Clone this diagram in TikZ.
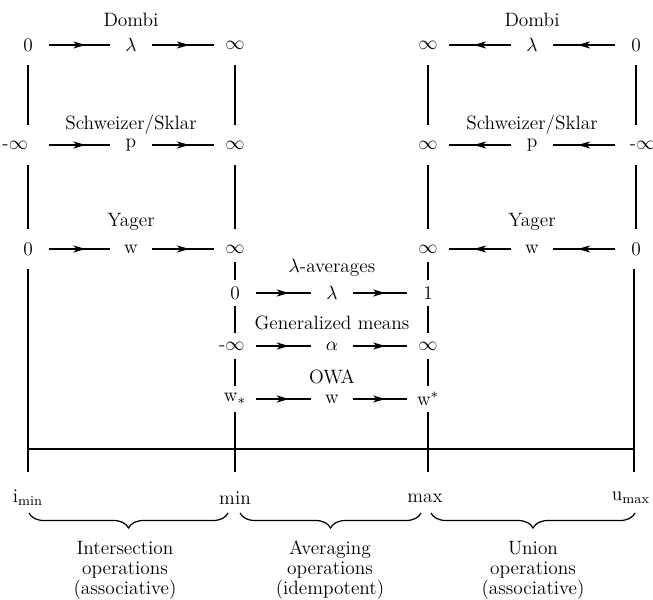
\documentclass[tikz,border=0pt]{standalone}
\usepackage{fontspec}
\usetikzlibrary{arrows.meta,decorations.markings,decorations.pathreplacing}

\begin{document}
\begin{tikzpicture}[>=stealth,
        font=\fontsize{11}{11.4}\selectfont,
        line width=0.8pt,
        val/.style={minimum width=0.8cm, minimum height=0.5cm, inner sep=0pt},
        fam/.style={inner sep=1pt},
        flow/.style={postaction={decorate}, decoration={markings, mark=at position 0.6 with {\arrow{Stealth[length=7pt,width=4pt,inset=2pt]}}}},
        rail/.style={shorten <=4pt, shorten >=4pt},
        ops/.style={align=center}]

        \useasboundingbox (0,0) rectangle (13.06,11.98);

        % intersections (left)
        \node[fam] (ldn) at (2.62,11.58) {Dombi};
        \node[val] (ld0) at (0.56,11.08) {0};
        \node[val] (ldl) at (2.62,11.08) {$\lambda$};
        \node[val] (ld1) at (4.7,11.08) {$\infty$};
        \node[fam] (lsn) at (2.62,9.48) {Schweizer/Sklar};
        \node[val] (ls0) at (0.56,9.08) {\llap{-$\infty$}};
        \node[val] (lsp) at (2.62,9.08) {p};
        \node[val] (ls1) at (4.7,9.08) {$\infty$};
        \node[fam] (lyn) at (2.62,7.54) {Yager};
        \node[val] (ly0) at (0.56,7.0) {0};
        \node[val] (lyw) at (2.62,7.0) {w};
        \node[val] (ly1) at (4.7,7.0) {$\infty$};

        \draw[flow] (ld0) -- (ldl);
        \draw[flow] (ldl) -- (ld1);
        \draw[flow] (ls0) -- (lsp);
        \draw[flow] (lsp) -- (ls1);
        \draw[flow] (ly0) -- (lyw);
        \draw[flow] (lyw) -- (ly1);
        \draw[rail] (ld0) -- (ls0);
        \draw[rail] (ls0) -- (ly0);
        \draw[rail] (ld1) -- (ls1);
        \draw[rail] (ls1) -- (ly1);

        % unions (right)
        \node[fam] (rdn) at (10.64,11.58) {Dombi};
        \node[val] (rd1) at (8.56,11.08) {$\infty$};
        \node[val] (rdl) at (10.64,11.08) {$\lambda$};
        \node[val] (rd0) at (12.72,11.08) {0};
        \node[fam] (rsn) at (10.64,9.48) {Schweizer/Sklar};
        \node[val] (rs1) at (8.56,9.08) {$\infty$};
        \node[val] (rsp) at (10.64,9.08) {p};
        \node[val] (rs0) at (12.72,9.08) {\kern-7pt\rlap{-$\infty$}};
        \node[fam] (ryn) at (10.64,7.54) {Yager};
        \node[val] (ry1) at (8.56,7.0) {$\infty$};
        \node[val] (ryw) at (10.64,7.0) {w};
        \node[val] (ry0) at (12.72,7.0) {0};

        \draw[flow] (rd0) -- (rdl);
        \draw[flow] (rdl) -- (rd1);
        \draw[flow] (rs0) -- (rsp);
        \draw[flow] (rsp) -- (rs1);
        \draw[flow] (ry0) -- (ryw);
        \draw[flow] (ryw) -- (ry1);
        \draw[rail] (rd1) -- (rs1);
        \draw[rail] (rs1) -- (ry1);
        \draw[rail] (rd0) -- (rs0);
        \draw[rail] (rs0) -- (ry0);

        % averages (middle)
        \node[fam] (aln) at (6.64,6.62) {$\lambda$-averages};
        \node[val] (al0) at (4.7,6.12) {0};
        \node[val] (all) at (6.64,6.12) {$\lambda$};
        \node[val] (al1) at (8.56,6.12) {1};
        \node[fam] (agn) at (6.64,5.52) {Generalized means};
        \node[val] (ag0) at (4.7,5.06) {\llap{-}$\infty$};
        \node[val] (aga) at (6.64,5.06) {$\alpha$};
        \node[val] (ag1) at (8.56,5.06) {$\infty$};
        \node[fam] (aon) at (6.64,4.44) {OWA};
        \node[val] (ao0) at (4.7,4.0) {w$_*$};
        \node[val] (aow) at (6.64,4.0) {w};
        \node[val] (ao1) at (8.56,4.0) {w$^*$};

        \draw[flow] (al0) -- (all);
        \draw[flow] (all) -- (al1);
        \draw[flow] (ag0) -- (aga);
        \draw[flow] (aga) -- (ag1);
        \draw[flow] (ao0) -- (aow);
        \draw[flow] (aow) -- (ao1);
        \draw (ly1) -- (al0);
        \draw (al0) -- (ag0);
        \draw (ag0) -- (ao0);
        \draw (ry1) -- (al1);
        \draw (al1) -- (ag1);
        \draw (ag1) -- (ao1);

        % scale
        \coordinate (b1) at (0.56,2.54);
        \coordinate (b2) at (4.7,2.54);
        \coordinate (b3) at (8.56,2.54);
        \coordinate (b4) at (12.68,2.54);
        \coordinate (h1) at (0.56,3.0);
        \coordinate (h4) at (12.68,3.0);
        \draw[shorten <=4pt] (ly0) -- (b1);
        \draw (ao0) -- (b2);
        \draw (ao1) -- (b3);
        \draw[shorten <=4pt] (ry0.south -| b4) -- (b4);
        \draw (h1) -- (h4);

        \node (timin) at (0.56,2.02) {i$_{\mathrm{min}}$};
        \node (tmin) at (4.7,2.02) {min};
        \node (tmax) at (8.5,2.02) {max};
        \node (tumax) at (12.62,2.02) {u$_{\mathrm{max}}$};

        \draw[line width=0.7pt, decorate, decoration={brace, mirror, amplitude=0.3cm}] (0.58,1.72) -- (4.56,1.72);
        \draw[line width=0.7pt, decorate, decoration={brace, mirror, amplitude=0.3cm}] (4.8,1.72) -- (8.42,1.72);
        \draw[line width=0.7pt, decorate, decoration={brace, mirror, amplitude=0.3cm}] (8.62,1.72) -- (12.7,1.72);

        \node[ops] (inter) at (2.5,0.58) {Intersection\\operations\\(associative)};
        \node[ops] (aver) at (6.6,0.58) {Averaging\\operations\\(idempotent)};
        \node[ops] (union) at (10.66,0.58) {Union\\operations\\(associative)};
\end{tikzpicture}
\end{document}
